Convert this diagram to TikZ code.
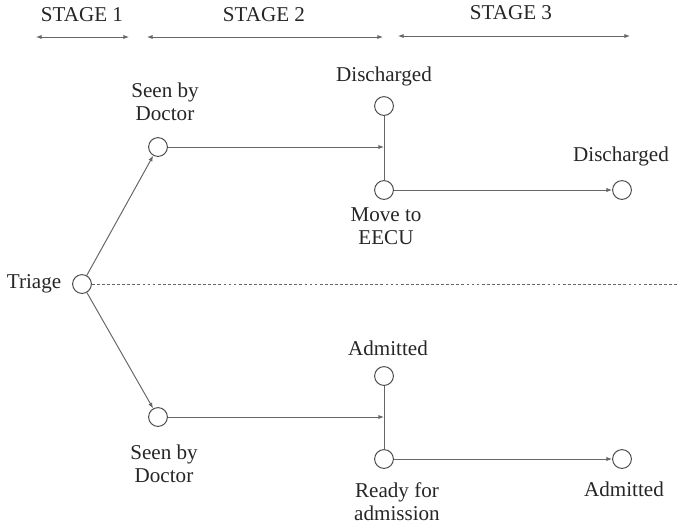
\documentclass[tikz,border=0pt]{standalone}
\usepackage{fontspec}
\setmainfont{Liberation Serif}
\usetikzlibrary{arrows.meta}
\usetikzlibrary{positioning}

\tikzset{
	state/.style={circle, draw=black!70, fill=white, line width=0.7pt, minimum size=0.47cm, inner sep=0pt},
	txt/.style={align=center, font=\fontsize{15}{16.5}\selectfont, text=black!85, inner sep=0pt},
	flow/.style={draw=black!60, line width=0.7pt, -{Latex[length=4pt,width=3pt]}},
	link/.style={draw=black!60, line width=0.7pt},
	span/.style={draw=black!60, line width=0.7pt, {Latex[length=4pt,width=3pt]}-{Latex[length=4pt,width=3pt]}}
}

\begin{document}
\begin{tikzpicture}[x=0.025cm, y=-0.025cm]
		\useasboundingbox (0,0) rectangle (679,528);
		% stages
		\draw (82,15) node[txt] (st1) {STAGE 1};
		\draw (264,15) node[txt] (st2) {STAGE 2};
		\draw (511,13) node[txt] (st3) {STAGE 3};
		\coordinate (s1a) at (36,37);  \coordinate (s1b) at (129,37);
		\coordinate (s2a) at (147,37); \coordinate (s2b) at (383,37);
		\coordinate (s3a) at (398,36); \coordinate (s3b) at (630,36);
		\draw[span] (s1a) -- (s1b);
		\draw[span] (s2a) -- (s2b);
		\draw[span] (s3a) -- (s3b);

		% circles
		\node[state] (triage) at (82,284) {};
		\node[state] (docup) at (158,147) {};
		\node[state] (dischup) at (384,106) {};
		\node[state] (eecu) at (384,190) {};
		\node[state] (dischright) at (622,190) {};
		\node[state] (doclow) at (158,417) {};
		\node[state] (admup) at (384,376) {};
		\node[state] (ready) at (384,459) {};
		\node[state] (admright) at (622,459) {};

		% labels
		\draw (34,284) node[txt] (ltriage) {Triage};
		\draw (165,102) node[txt] (ldocup) {Seen by\\Doctor};
		\draw (384,76) node[txt] (ldischup) {Discharged};
		\draw (386,226) node[txt] (leecu) {Move to\\EECU};
		\draw (621,156) node[txt] (ldischright) {Discharged};
		\draw (164,464) node[txt] (ldoclow) {Seen by\\Doctor};
		\draw (388,348) node[txt] (ladmup) {Admitted};
		\draw (397,502) node[txt] (lready) {Ready for\\admission};
		\draw (624,489) node[txt] (ladmright) {Admitted};

		% connectors
		\coordinate (jup) at (384,147);
		\coordinate (jlow) at (384,417);
		\coordinate (dotend) at (679,284);
		\draw[flow] (triage) -- (docup);
		\draw[flow] (triage) -- (doclow);
		\draw[link, dash pattern=on 2pt off 1.6pt] (triage) -- (dotend);
		\draw[flow] (docup) -- (jup);
		\draw[flow] (doclow) -- (jlow);
		\draw[link] (dischup) -- (eecu);
		\draw[link] (admup) -- (ready);
		\draw[flow] (eecu) -- (dischright);
		\draw[flow] (ready) -- (admright);
\end{tikzpicture}
\end{document}
